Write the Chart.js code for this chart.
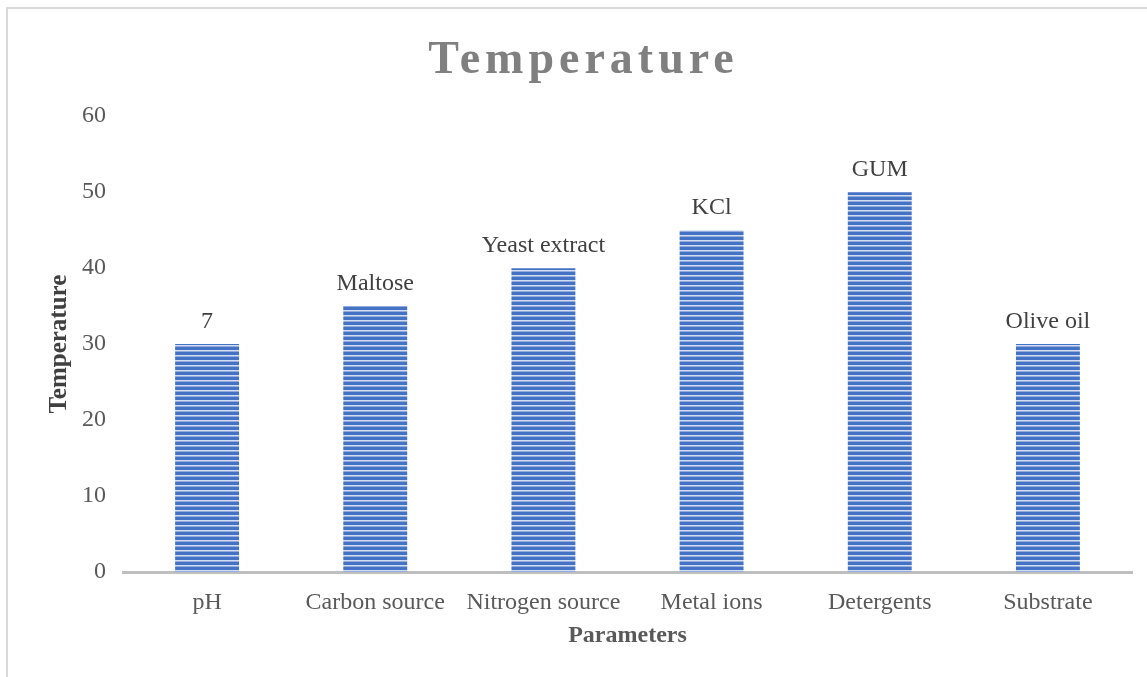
<!DOCTYPE html>
<html>
<head>
<meta charset="utf-8">
<script src="https://cdn.jsdelivr.net/npm/chart.js@4/dist/chart.umd.min.js"></script>
<style>
  html, body { margin: 0; padding: 0; background: #ffffff; }
  #wrap { position: relative; width: 1147px; height: 677px; overflow: hidden; }
  #frame { position: absolute; left: 6px; top: 7px; width: 1200px; height: 700px;
           border-left: 2px solid #d9d9d9; border-top: 2px solid #d9d9d9; }
  canvas { position: absolute; left: 0; top: 0; }
</style>
</head>
<body>
<div id="wrap">
  <div id="frame"></div>
  <canvas id="chart" width="1147" height="677"></canvas>
</div>
<script>
// Parameters studied and the optimum temperature found for each
const categories = ['pH', 'Carbon source', 'Nitrogen source', 'Metal ions', 'Detergents', 'Substrate'];
const temperatureValues = [30, 35, 40, 45, 50, 30];
const barLabels = ['7', 'Maltose', 'Yeast extract', 'KCl', 'GUM', 'Olive oil'];
const yTicks = [0, 10, 20, 30, 40, 50, 60];

const SERIF = '"Liberation Serif", "Times New Roman", serif';

// Horizontal striped fill for the bars
function stripePattern() {
  const c = document.createElement('canvas');
  c.width = 8; c.height = 5;
  const g = c.getContext('2d');
  g.fillStyle = '#4472c4';
  g.fillRect(0, 0, 8, 5);
  g.fillStyle = '#d3ddf2';
  g.fillRect(0, 0, 8, 1);
  g.fillStyle = '#93acdc';
  g.fillRect(0, 1, 8, 1);
  return g.createPattern(c, 'repeat');
}

// Text above each bar
const barLabelPlugin = {
  id: 'barLabels',
  afterDatasetsDraw(chart) {
    const ctx = chart.ctx;
    const meta = chart.getDatasetMeta(0);
    ctx.save();
    ctx.font = '24px ' + SERIF;
    ctx.fillStyle = '#404040';
    ctx.textAlign = 'center';
    ctx.textBaseline = 'middle';
    meta.data.forEach((bar, i) => {
      ctx.fillText(barLabels[i], bar.x, bar.y - 22);
    });
    ctx.restore();
  }
};

// Spaced-out lettering for the chart title
const titleSpacingPlugin = {
  id: 'titleSpacing',
  afterLayout(chart) {
    const block = chart.titleBlock;
    if (block && !block._spaced) {
      const orig = block.draw;
      block.draw = function () {
        const ctx = this.ctx;
        ctx.save();
        ctx.letterSpacing = '5px';
        ctx.translate(14, 0);
        orig.call(this);
        ctx.restore();
      };
      block._spaced = true;
    }
  }
};

new Chart(document.getElementById('chart'), {
  type: 'bar',
  data: {
    labels: categories,
    datasets: [{
      label: 'Temperature',
      data: temperatureValues,
      backgroundColor: stripePattern(),
      borderWidth: 0,
      categoryPercentage: 1.0,
      barPercentage: 0.38
    }]
  },
  options: {
    responsive: false,
    animation: false,
    events: [],
    layout: { padding: { left: 7, top: 8, right: 15, bottom: 0 } },
    plugins: {
      legend: { display: false },
      tooltip: { enabled: false },
      title: {
        display: true,
        text: 'Temperature',
        color: '#808080',
        font: { family: SERIF, size: 46, weight: 'bold' },
        padding: { top: 26, bottom: 27 }
      }
    },
    scales: {
      x: {
        grid: { display: false, drawTicks: false },
        border: { display: true, color: '#bfbfbf', width: 3 },
        ticks: { color: '#595959', font: { family: SERIF, size: 24 }, padding: 16, maxRotation: 0, autoSkip: false },
        title: {
          display: true,
          text: 'Parameters',
          color: '#595959',
          font: { family: SERIF, size: 24, weight: 'bold' },
          padding: { top: 0, bottom: 27 }
        },
        afterFit(scale) { scale.height = 105; }
      },
      y: {
        min: 0,
        max: 60,
        afterBuildTicks(scale) { scale.ticks = yTicks.map(v => ({ value: v })); },
        grid: { display: false, drawTicks: false },
        border: { display: false },
        ticks: { color: '#595959', font: { family: SERIF, size: 24 }, padding: 17 },
        title: {
          display: true,
          text: 'Temperature',
          color: '#404040',
          font: { family: SERIF, size: 25, weight: 'bold' },
          padding: { top: 38, bottom: 0 }
        },
        afterFit(scale) { scale.width = 116; }
      }
    }
  },
  plugins: [barLabelPlugin, titleSpacingPlugin]
});
</script>
</body>
</html>
